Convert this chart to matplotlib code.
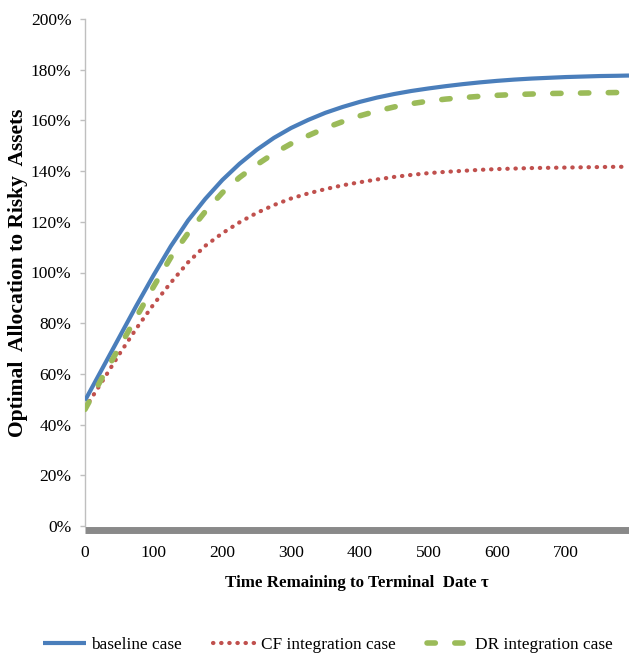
import matplotlib
matplotlib.use("Agg")
import matplotlib.pyplot as plt
import matplotlib.transforms as mtransforms
from matplotlib.lines import Line2D

plt.rcParams['font.family'] = ['Liberation Serif', 'DejaVu Serif']

tau = [0, 25, 50, 75, 100, 125, 150, 175, 200, 225, 250, 275, 300, 325, 350, 375,
       400, 425, 450, 475, 500, 525, 550, 575, 600, 625, 650, 675, 700, 725, 750, 775, 792]

baseline = [49.5, 62, 74.5, 87, 99, 110.4, 120.5, 129, 136.5, 142.9, 148.4, 153.1, 157, 160.2,
            163, 165.3, 167.3, 169, 170.4, 171.6, 172.6, 173.5, 174.3, 175, 175.6, 176.1,
            176.5, 176.8, 177.1, 177.3, 177.5, 177.6, 177.7]

cf_integration = [46.5, 57, 67.8, 78, 87.5, 96, 104, 110.5, 115.5, 119.8, 123.5, 126.6, 129.2,
                  131.2, 132.9, 134.4, 135.6, 136.7, 137.7, 138.5, 139.2, 139.7, 140.1, 140.5,
                  140.8, 141, 141.2, 141.3, 141.4, 141.5, 141.6, 141.7, 141.7]

dr_integration = [46, 58.5, 70.5, 82.5, 94.5, 106, 115.5, 124, 131.5, 137.5, 142.5, 147,
                  150.8, 154, 157, 159.5, 161.8, 163.7, 165.3, 166.6, 167.6, 168.4, 169, 169.5,
                  169.9, 170.2, 170.4, 170.6, 170.7, 170.8, 170.9, 171, 171]

yticks = [0, 20, 40, 60, 80, 100, 120, 140, 160, 180, 200]
xticks = [0, 100, 200, 300, 400, 500, 600, 700]

W, H = 629, 656
fig = plt.figure(figsize=(W / 100, H / 100), dpi=100)
ax = fig.add_axes([85 / W, 1 - 526 / H, 1 - 85 / W, (526 - 19) / H])

c_blue = '#4a7ebb'
c_red = '#c0504d'
c_green = '#9bbb59'

l1, = ax.plot(tau, baseline, color=c_blue, lw=3, solid_capstyle='butt',
              solid_joinstyle='round', label='baseline case', zorder=3)
l2, = ax.plot(tau, cf_integration, color=c_red, lw=3, linestyle=(0, (0.1, 1.85)),
              dash_capstyle='round', label='CF integration case', zorder=3)
l3, = ax.plot(tau, dr_integration, color=c_green, lw=4, linestyle=(0, (1.5, 3.5)),
              dash_capstyle='round', label='DR integration case', zorder=3)

ax.set_xlim(0, 792)
ax.set_ylim(0, 200)
ax.set_yticks(yticks)
ax.set_yticklabels([f'{v}%' for v in yticks])
ax.set_xticks(xticks)
ax.set_xticklabels([str(v) for v in xticks])

for s in ['top', 'right', 'bottom']:
    ax.spines[s].set_visible(False)
ax.spines['left'].set_color('#bfbfbf')
ax.spines['left'].set_linewidth(1)

ax.tick_params(axis='y', length=3.8, width=1, color='#bfbfbf', labelsize=12.5, pad=6, direction='out')
ax.tick_params(axis='x', length=0, labelsize=12.5, pad=14)

# thick grey category axis bar just below the zero line
off = mtransforms.ScaledTranslation(0, -3.6 / 100, fig.dpi_scale_trans)
bar = Line2D([0, 1], [0, 0], transform=ax.transAxes + off,
             color='#898989', lw=5.0, solid_capstyle='butt', zorder=2)
fig.add_artist(bar)

fig.text(357 / W, 1 - 583 / H, 'Time Remaining to Terminal  Date \u03c4', fontsize=12.2,
         fontweight='bold', ha='center', va='center')
fig.text(18 / W, 1 - 273 / H, 'Optimal  Allocation to Risky  Assets', fontsize=15.5,
         fontweight='bold', ha='center', va='center', rotation=90)

fig.legend(handles=[l1, l2, l3], loc='center', bbox_to_anchor=(328 / W, 1 - 645 / H), ncol=3,
           frameon=False, fontsize=12.4, handlelength=2.5, handletextpad=0.3, columnspacing=1.8)

fig.savefig('out.png', dpi=100)
